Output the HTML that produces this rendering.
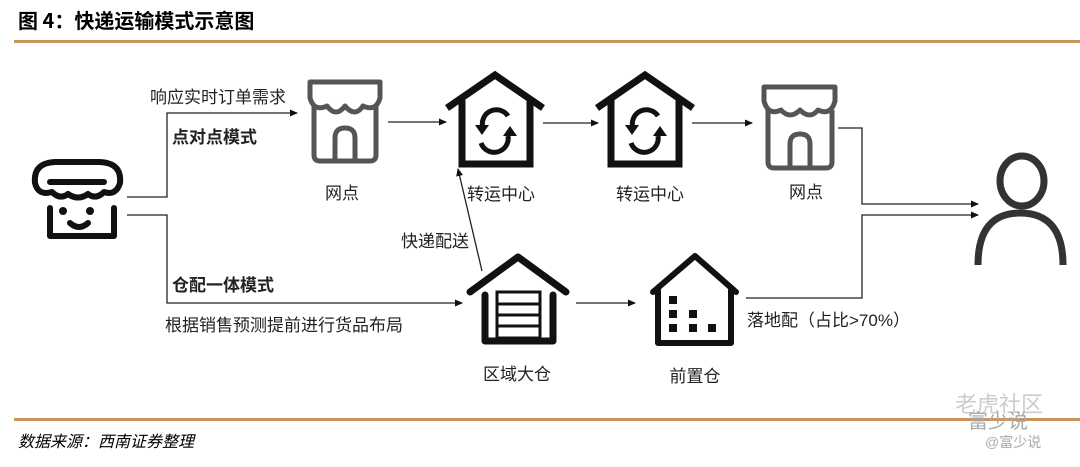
<!DOCTYPE html>
<html><head><meta charset="utf-8">
<style>
html,body{margin:0;padding:0;background:#fff;}
svg{display:block;}
text{font-family:"Liberation Sans","Noto Sans CJK SC",sans-serif;}
</style></head><body>
<svg width="1080" height="467" viewBox="0 0 1080 467" xmlns="http://www.w3.org/2000/svg">
<defs>
<marker id="a" markerWidth="8" markerHeight="8" refX="7" refY="4" orient="auto" markerUnits="userSpaceOnUse">
<path d="M0,0.5 L8,4 L0,7.5 Z" fill="#111"/></marker>
</defs>
<text x="18" y="28" font-size="20" font-weight="bold" style="font-family:'Noto Sans CJK SC','Liberation Sans',sans-serif">图 4：快递运输模式示意图</text>
<rect x="14" y="40" width="1066" height="3" fill="#c8955a"/>
<rect x="14" y="418" width="1066" height="3" fill="#c8955a"/>
<text x="18" y="447" font-size="16" font-style="italic" style="font-family:'Noto Sans CJK SC','Liberation Serif',serif">数据来源：西南证券整理</text>

<!-- left shop -->
<g fill="none" stroke="#111" stroke-width="6" stroke-linecap="round" stroke-linejoin="round">
<path d="M35,183 Q33,163 55,162 L100,162 Q122,163 120,183 Q116,196 104,192 Q96,200 88,194 Q78,201 68,194 Q60,200 52,192 Q38,196 35,183 Z"/>
<line x1="50" y1="182" x2="104" y2="182"/>
<path d="M50,208 L50,236 L114,236 L114,208"/>
<path d="M70,223 Q79,231 88,223"/>
</g>
<circle cx="63" cy="211" r="4" fill="#111"/><circle cx="90" cy="211" r="4" fill="#111"/>

<!-- connectors -->
<g fill="none" stroke="#222" stroke-width="1.3">
<path d="M127,197 H167 V113 H297" marker-end="url(#a)"/>
<path d="M127,215 H167 V303 H462" marker-end="url(#a)"/>
<path d="M388,122 H446" marker-end="url(#a)"/>
<path d="M543,123 H598" marker-end="url(#a)"/>
<path d="M692,123 H752" marker-end="url(#a)"/>
<path d="M838,128 H862 V204 H978" marker-end="url(#a)"/>
<path d="M746,298 H862 V215 H978" marker-end="url(#a)"/>
<path d="M576,303 H635" marker-end="url(#a)"/>
<path d="M482,271 L458,169" marker-end="url(#a)"/>
</g>

<g font-size="17" fill="#222">
<text x="150" y="103">响应实时订单需求</text>
<text x="172" y="143" font-weight="bold">点对点模式</text>
<text x="172" y="291" font-weight="bold">仓配一体模式</text>
<text x="165" y="331">根据销售预测提前进行货品布局</text>
<text x="401" y="247">快递配送</text>
<text x="342" y="199" text-anchor="middle">网点</text>
<text x="501" y="200" text-anchor="middle">转运中心</text>
<text x="650" y="200" text-anchor="middle">转运中心</text>
<text x="806" y="198" text-anchor="middle">网点</text>
<text x="517" y="380" text-anchor="middle">区域大仓</text>
<text x="695" y="382" text-anchor="middle">前置仓</text>
<text x="747" y="326">落地配（占比&gt;70%）</text>
</g>

<!-- 网点 icons -->
<g fill="none" stroke="#555" stroke-width="5" stroke-linejoin="round">
<path d="M310,82 H380 V98 Q376,112 363,106 Q355,118 345,106 Q336,118 327,106 Q314,112 310,98 Z"/>
<path d="M314,106 V155 Q314,161 320,161 H370 Q376,161 376,155 V106"/>
<path d="M335,161 V138 Q335,128 345,128 Q355,128 355,138 V161"/>
<path d="M764,87 H835 V101 Q831,116 818,110 Q810,120 800,110 Q790,120 781,110 Q768,116 764,101 Z"/>
<path d="M768,110 V162 Q768,168 774,168 H826 Q832,168 832,162 V110"/>
<path d="M790,168 V144 Q790,134 800,134 Q810,134 810,144 V168"/>
</g>

<!-- transfer houses -->
<g fill="none" stroke="#111" stroke-width="7" stroke-linejoin="miter">
<path d="M447,108 L495,75 L543,108"/>
<path d="M462,100 V164 H530 V100"/>
<path d="M597,108 L645,75 L693,108"/>
<path d="M611,100 V164 H679 V100"/>
</g>
<g fill="none" stroke="#111" stroke-width="5">
<path d="M483,128 A14,14 0 0 1 508,116"/>
<path d="M508,136 A14,14 0 0 1 481,143"/>
<path d="M633,128 A14,14 0 0 1 658,116"/>
<path d="M658,136 A14,14 0 0 1 631,143"/>
</g>
<g fill="#111">
<path d="M475,125 L489,125 L482,135 Z"/><path d="M517,136 L503,136 L510,126 Z"/>
<path d="M625,125 L639,125 L632,135 Z"/><path d="M667,136 L653,136 L660,126 Z"/>
</g>

<!-- regional warehouse -->
<g fill="none" stroke="#111" stroke-width="7" stroke-linecap="round" stroke-linejoin="round">
<path d="M470,292 L518,257 L566,292"/>
<path d="M485,295 V341 H553 V295"/>
</g>
<g fill="none" stroke="#111" stroke-width="3">
<rect x="497" y="292" width="43" height="46"/>
<line x1="497" y1="304" x2="540" y2="304"/><line x1="497" y1="315" x2="540" y2="315"/><line x1="497" y1="326" x2="540" y2="326"/>
</g>

<!-- front warehouse -->
<g fill="none" stroke="#111" stroke-width="6" stroke-linecap="round" stroke-linejoin="round">
<path d="M653,292 L695,256 L736,292"/>
<path d="M658,290 V343 H731 V290"/>
</g>
<g fill="#111">
<rect x="669" y="296" width="8" height="8"/><rect x="669" y="310" width="8" height="8"/><rect x="669" y="324" width="8" height="8"/>
<rect x="689" y="310" width="8" height="8"/><rect x="689" y="324" width="8" height="8"/><rect x="708" y="324" width="8" height="8"/>
</g>

<!-- person -->
<g fill="none" stroke="#333" stroke-width="7">
<ellipse cx="1022" cy="181" rx="22" ry="25"/>
<path d="M978,265 Q978,213 1020,213 Q1063,213 1063,265"/>
</g>

<!-- watermark -->
<g font-size="22">
<text x="955" y="412" fill="#ccc">老虎社区</text>
<text x="968" y="428" fill="#aaa" font-size="20">富少说</text>
<text x="985" y="447" fill="#aaa" font-size="14">@富少说</text>
</g>
</svg>
</body></html>
